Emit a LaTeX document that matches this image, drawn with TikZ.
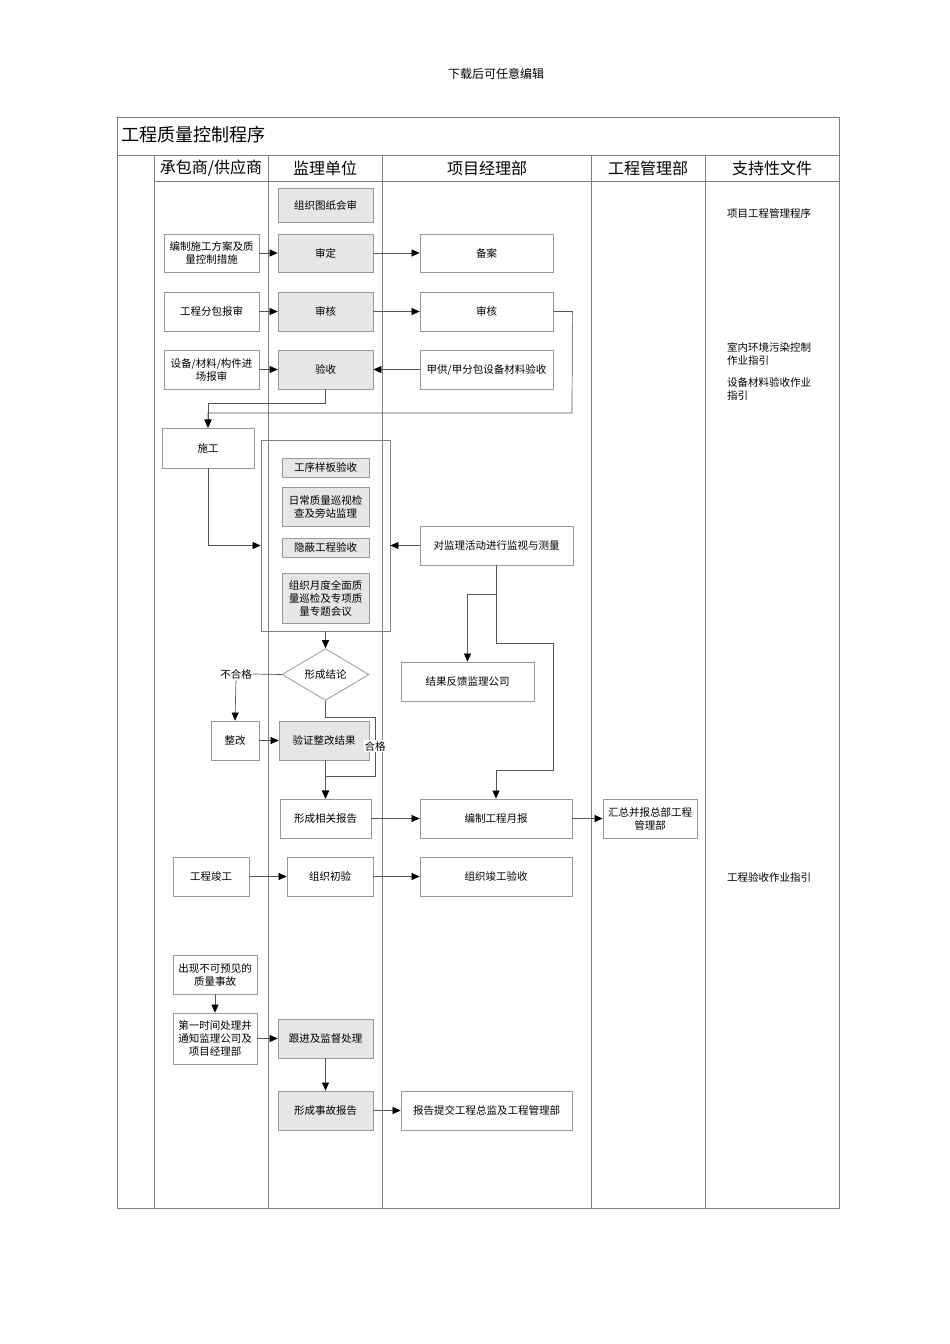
\documentclass[tikz,border=0pt]{standalone}
\usepackage{fontspec}
\setmainfont{Noto Sans CJK SC}
\usepackage{tikz}
\usetikzlibrary{positioning,arrows.meta,shapes.geometric}
\definecolor{framegray}{HTML}{808080}
\definecolor{boxgray}{HTML}{999999}
\definecolor{fillgray}{HTML}{E6E6E6}
\definecolor{wiregray}{HTML}{555555}
\begin{document}
\begin{tikzpicture}[x=1pt,y=-1pt,
   box/.style={draw=boxgray,line width=0.8pt,align=center,inner sep=2pt,
     font=\fontsize{10.5}{13}\selectfont},
   sbox/.style={box,fill=fillgray},
   note/.style={anchor=west,align=left,inner sep=0pt,font=\fontsize{10.5}{13}\selectfont},
   head/.style={font=\fontsize{16}{18}\selectfont},
   wire/.style={draw=wiregray,line width=0.7pt},
   arr/.style={wire,-{Triangle[length=8pt,width=7pt,color=black]}}]
\useasboundingbox (0,0) rectangle (950,1344);
\node (top) at (496,74) {\fontsize{12}{14}\selectfont 下载后可任意编辑};
% frame and lanes
\draw[framegray,line width=0.8pt] (117,117) rectangle (839,1208);
\draw[framegray,line width=0.8pt] (117,155) -- (839,155) (154,181) -- (839,181);
\foreach \lx in {154,268,382,591,705}
   \draw[framegray,line width=0.8pt] (\lx,155) -- (\lx,1208);
\node[anchor=west,inner sep=0pt] (title) at (121,135) {\fontsize{18}{20}\selectfont 工程质量控制程序};
\node[head] (h1) at (211,168) {承包商/供应商};
\node[head] (h2) at (325,168) {监理单位};
\node[head] (h3) at (487,168) {项目经理部};
\node[head] (h4) at (648,168) {工程管理部};
\node[head] (h5) at (772,168) {支持性文件};
% boxes
\node[sbox,minimum width=95,minimum height=34] (tuzhi) at (325.5,205) {组织图纸会审};
\node[box,minimum width=95,minimum height=38] (bianzhi) at (211.5,253) {编制施工方案及质\\量控制措施};
\node[sbox,minimum width=95,minimum height=38] (shending) at (325.5,253) {审定};
\node[box,minimum width=133,minimum height=38] (beian) at (486.5,253) {备案};
\node[box,minimum width=95,minimum height=39] (fenbao) at (211.5,311.5) {工程分包报审};
\node[sbox,minimum width=95,minimum height=39] (shenhe) at (325.5,311.5) {审核};
\node[box,minimum width=133,minimum height=39] (xmshenhe) at (486.5,311.5) {审核};
\node[box,minimum width=95,minimum height=39] (baoshen) at (211.5,369.5) {设备/材料/构件进\\场报审};
\node[sbox,minimum width=95,minimum height=39] (yanshou) at (325.5,369.5) {验收};
\node[box,minimum width=133,minimum height=39] (jiagong) at (486.5,369.5) {甲供/甲分包设备材料验收};
\node[box,minimum width=92,minimum height=40] (shigong) at (208,448) {施工};
\node[draw=framegray,line width=0.8pt,minimum width=129,minimum height=191] (zone) at (325.5,535.5) {};
\node[sbox,minimum width=87,minimum height=19] (yangban) at (325.5,467.5) {工序样板验收};
\node[sbox,minimum width=87,minimum height=39] (xunshi) at (325.5,506.5) {日常质量巡视检\\查及旁站监理};
\node[sbox,minimum width=87,minimum height=19] (yinbi) at (325.5,547.5) {隐蔽工程验收};
\node[sbox,minimum width=87,minimum height=50] (yuedu) at (325.5,598) {组织月度全面质\\量巡检及专项质\\量专题会议};
\node[box,minimum width=153,minimum height=39] (jianshi) at (496.5,545.5) {对监理活动进行监视与测量};
\node[box,diamond,inner sep=0pt,minimum width=87,minimum height=37] (jielun) at (325.5,674.5) {形成结论};
\node[box,minimum width=133,minimum height=39] (fankui) at (467.5,681.5) {结果反馈监理公司};
\node[box,draw=none,fill=white,inner sep=1pt] (buhege) at (236,674) {不合格};
\node[box,minimum width=48,minimum height=39] (zhenggai) at (235,740.5) {整改};
\node[sbox,minimum width=90,minimum height=39] (yanzheng) at (324,740.5) {验证整改结果};
\node[box,minimum width=91,minimum height=39] (xiangguan) at (325.5,818.5) {形成相关报告};
\node[box,minimum width=152,minimum height=39] (yuebao) at (496,818.5) {编制工程月报};
\node[box,minimum width=94,minimum height=39] (huizong) at (650,818.5) {汇总并报总部工程\\管理部};
\node[box,minimum width=76,minimum height=39] (jungong) at (211,876.5) {工程竣工};
\node[box,minimum width=86,minimum height=39] (chuyan) at (330,876.5) {组织初验};
\node[box,minimum width=152,minimum height=39] (jgyanshou) at (496,876.5) {组织竣工验收};
\node[box,minimum width=84,minimum height=39] (shigu) at (215,974.5) {出现不可预见的\\质量事故};
\node[box,minimum width=84,minimum height=51] (chuli) at (215,1038.5) {第一时间处理并\\通知监理公司及\\项目经理部};
\node[sbox,minimum width=95,minimum height=39] (genjin) at (325.5,1038.5) {跟进及监督处理};
\node[sbox,minimum width=95,minimum height=39] (sgbaogao) at (325.5,1110.5) {形成事故报告};
\node[box,minimum width=171,minimum height=39] (tijiao) at (486.5,1110.5) {报告提交工程总监及工程管理部};
% supporting documents
\node[note] (doc1) at (727,213) {项目工程管理程序};
\node[note] (doc2) at (727,353.5) {室内环境污染控制\\作业指引};
\node[note] (doc3) at (727,388.5) {设备材料验收作业\\指引};
\node[note] (doc4) at (727,877) {工程验收作业指引};
% connectors
\draw[arr] (bianzhi) -- (shending);
\draw[arr] (shending) -- (beian);
\draw[arr] (fenbao) -- (shenhe);
\draw[arr] (shenhe) -- (xmshenhe);
\draw[arr] (baoshen) -- (yanshou);
\draw[arr] (jiagong) -- (yanshou);
\draw[arr] (yanshou.south) -- ++(0,14) -| (shigong.north);
\coordinate (back) at (572,413);
\draw[arr] (xmshenhe.east) -- ++(19,0) -- (back) -| (shigong.north);
\draw[arr] (shigong.south) |- (zone.west |- jianshi);
\draw[arr] (jianshi.west) -- (jianshi.west -| zone.east);
\draw[arr] (jianshi.south) -- ++(0,29) -| (fankui.north);
\coordinate (loop) at (553,770);
\draw[arr] (jianshi.south) -- ++(0,78) -| (loop) -| (yuebao.north);
\draw[arr] (zone.south) -- (jielun.north);
\draw[wire] (jielun.west) -- (buhege.east);
\draw[arr] (buhege.south) -- (zhenggai.north);
\coordinate (pass) at (375,776);
\draw[arr] (jielun.south) -- ++(0,17) -| (pass) -| (xiangguan.north);
\node[box,draw=none,fill=white,inner sep=1pt] (hege) at (375,746) {合格};
\draw[arr] (zhenggai) -- (yanzheng);
\draw[arr] (yanzheng.south -| xiangguan.north) -- (xiangguan.north);
\draw[arr] (xiangguan) -- (yuebao);
\draw[arr] (yuebao) -- (huizong);
\draw[arr] (jungong) -- (chuyan);
\draw[arr] (chuyan) -- (jgyanshou);
\draw[arr] (shigu) -- (chuli);
\draw[arr] (chuli) -- (genjin);
\draw[arr] (genjin) -- (sgbaogao);
\draw[arr] (sgbaogao) -- (tijiao);
\end{tikzpicture}
\end{document}
